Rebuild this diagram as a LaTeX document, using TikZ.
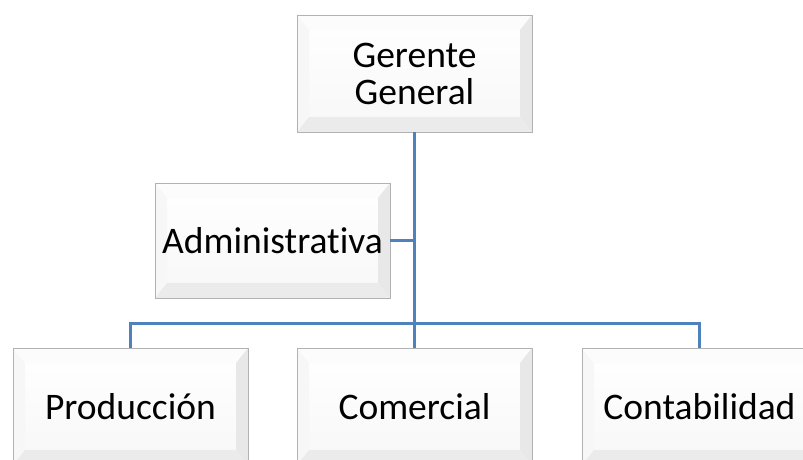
\documentclass[tikz,border=0pt]{standalone}
\usepackage{fontspec}
\setmainfont{Carlito}[Ligatures=NoCommon]
\definecolor{linkblue}{RGB}{79,129,189}
\tikzset{
bevelbox/.style={minimum width=235pt, minimum height=117pt, inner sep=0pt, draw=black!30, line width=0.8pt, top color=white, bottom color=black!3, align=center, font=\fontsize{37.5}{37}\selectfont,
path picture={
\coordinate (sw) at (path picture bounding box.south west);
\coordinate (se) at (path picture bounding box.south east);
\coordinate (nw) at (path picture bounding box.north west);
\coordinate (ne) at (path picture bounding box.north east);
\fill[black!3] (sw)--(nw)--([shift={(12,15)}]nw)--([shift={(12,-15)}]sw)--cycle;
\fill[black!1] (nw)--(ne)--([shift={(-12,15)}]ne)--([shift={(12,15)}]nw)--cycle;
\fill[black!9] (ne)--(se)--([shift={(-12,-15)}]se)--([shift={(-12,15)}]ne)--cycle;
\fill[black!8] (sw)--(se)--([shift={(-12,-15)}]se)--([shift={(12,-15)}]sw)--cycle;
}},
link/.style={draw=linkblue, line width=2.6pt}
}
\begin{document}
\begin{tikzpicture}[x=1pt,y=-1pt]
\useasboundingbox (0,0) rectangle (803,460);
\node [bevelbox] (gg) at (414.5,73.5) {Gerente\\General};
\node [bevelbox, minimum height=115pt] (adm) at (272.5,240.5) {Administrativa};
\foreach \nm/\x/\txt in {prod/130.5/Producción, com/414.5/Comercial, cont/699.5/Contabilidad}{
\node [bevelbox] (\nm) at (\x,406.5) {\txt};
}
\draw[link] (gg.south) -- (com.north);
\draw[link] (adm.east) -- (adm.east -| gg.south);
\draw[link] (prod.north) -- ++(0,-24) -| (cont.north);
\end{tikzpicture}
\end{document}
